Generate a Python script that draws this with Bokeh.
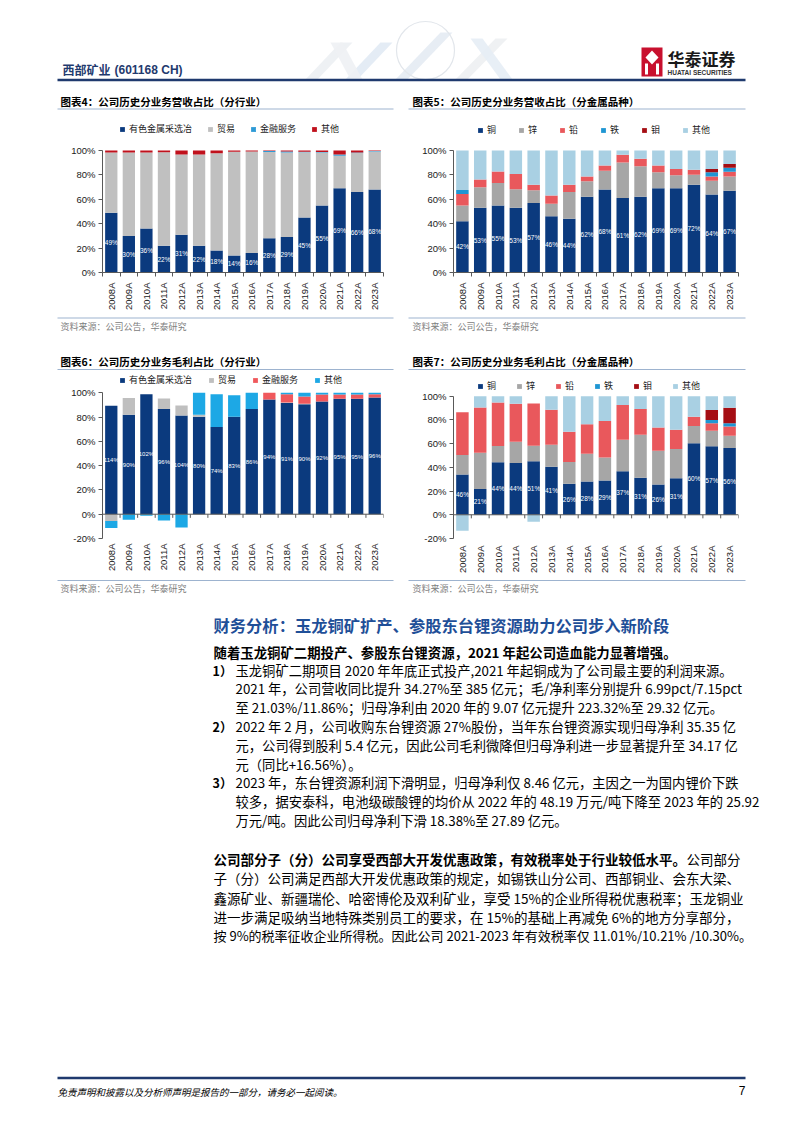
import numpy as np
from bokeh.plotting import figure
from bokeh.models import Range1d, FixedTicker, Legend, LegendItem, Span, ColumnDataSource
from bokeh.layouts import column, row
from bokeh.core.properties import value
from bokeh.embed import file_html
from bokeh.resources import INLINE

CJK = "Noto Sans CJK SC"
LAT = "Liberation Sans"

# ---------------- data ----------------
years = ["2008A", "2009A", "2010A", "2011A", "2012A", "2013A", "2014A", "2015A",
         "2016A", "2017A", "2018A", "2019A", "2020A", "2021A", "2022A", "2023A"]
y_ticks_pos = [0, 20, 40, 60, 80, 100]
y_tick_labels_pos = ["0%", "20%", "40%", "60%", "80%", "100%"]
y_ticks_neg = [-20, 0, 20, 40, 60, 80, 100]
y_tick_labels_neg = ["-20%", "0%", "20%", "40%", "60%", "80%", "100%"]

# Chart 4: revenue share by industry
ind_names = ["有色金属采选冶", "贸易", "金融服务", "其他"]
rev_ind_metal = [49, 30, 36, 22, 31, 22, 18, 14, 16, 28, 29, 45, 55, 69, 66, 68]
rev_ind_trade = [49.4, 68.4, 62.4, 76.6, 65.7, 74.7, 79.8, 84.9, 83.2, 70.8, 69.4, 53.5, 43.3, 26.7, 31.9, 31.2]
rev_ind_fin = [0, 0, 0, 0, 0, 0, 0, 0, 0, 0.8, 0.8, 0.5, 0.5, 1.0, 0.5, 0.4]
rev_ind_other = [1.6, 1.6, 1.6, 1.4, 3.3, 3.3, 2.2, 1.1, 0.8, 0.4, 0.8, 1.0, 1.2, 3.3, 1.6, 0.4]
rev_ind_labels = [49, 30, 36, 22, 31, 22, 18, 14, 16, 28, 29, 45, 55, 69, 66, 68]

# Chart 5: revenue share by metal
metal_names = ["铜", "锌", "铅", "铁", "钼", "其他"]
rev_cu = [42, 53, 55, 53, 57, 46, 44, 62, 68, 61, 62, 69, 69, 72, 64, 67]
rev_zn = [12.8, 16.9, 18.4, 15.2, 10.4, 10.4, 22.0, 12.8, 15.3, 29.1, 25.1, 13.2, 10.7, 8.0, 11.1, 11.6]
rev_pb = [9.6, 6.3, 9.3, 12.6, 4.4, 6.6, 5.8, 3.8, 4.4, 6.3, 6.1, 5.5, 5.2, 4.1, 3.5, 3.9]
rev_fe = [3.3, 0, 0, 0, 0, 0, 0, 0, 0, 0, 0, 0, 0, 0, 3.6, 3.3]
rev_mo = [0, 0, 0, 0, 0, 0, 0, 0, 0, 0, 0, 0, 0, 0, 2.7, 3.2]
rev_oth = [32.3, 23.8, 17.3, 19.2, 28.2, 37.0, 28.2, 21.4, 12.3, 3.6, 6.8, 12.3, 15.1, 15.9, 15.1, 11.0]
rev_cu_labels = [42, 53, 55, 53, 57, 46, 44, 62, 68, 61, 62, 69, 69, 72, 64, 67]

# Chart 6: gross profit share by industry (as drawn, normalised)
gp_ind_metal = [89.3, 81.8, 98.7, 86.6, 81.2, 80.2, 71.8, 80.2, 86.6, 94.4, 91.5, 90.5, 92.8, 95.0, 95.0, 96.0]
gp_ind_trade = [0, 13.9, 0, 8.6, 8.3, 1.6, 0, 0, 0, 0, 0.5, 0.5, 0, 0, 0, 0]
gp_ind_fin = [0, 0, 0, 0, 0, 0, 0, 0, 0, 5.6, 6.8, 6.0, 5.7, 3.6, 3.5, 2.7]
gp_ind_other = [0, 0, 0, 0, 0, 18.2, 26.9, 17.7, 13.4, 0, 1.2, 3.0, 1.5, 1.4, 1.5, 1.3]
gp_ind_trade_neg = [-5.6, 0, 0, 0, 0, 0, -0.5, -0.8, 0, 0, 0, 0, 0, 0, 0, 0]
gp_ind_other_neg = [-5.7, -4.6, -1.2, -5.1, -11.0, 0, 0, 0, 0, 0, 0, 0, 0, 0, 0, 0]
gp_ind_labels = [114, 90, 102, 96, 104, 80, 74, 83, 86, 94, 91, 90, 92, 95, 95, 96]

# Chart 7: gross profit share by metal (as drawn, normalised)
gp_cu = [34.0, 21.7, 44.3, 43.7, 45.1, 40.4, 26.2, 28.1, 29.0, 36.8, 31.2, 25.6, 30.9, 60.4, 57.7, 56.3]
gp_zn = [16.4, 30.7, 13.6, 17.9, 13.1, 18.7, 18.4, 23.4, 19.2, 26.4, 36.2, 28.4, 24.5, 14.5, 13.1, 10.3]
gp_pb = [36.0, 38.1, 36.8, 32.0, 35.7, 29.5, 25.3, 24.8, 30.9, 29.3, 21.7, 19.5, 16.2, 7.8, 6.4, 7.8]
gp_fe = [0, 0, 0, 0, 0, 0, 0, 0, 0, 0, 0, 0, 0, 0, 2.7, 2.8]
gp_mo = [0, 0, 0, 0, 0, 0, 0, 0, 0, 0, 0, 0, 0, 0, 8.4, 13.1]
gp_oth = [0, 9.5, 5.3, 6.4, 0, 11.4, 30.1, 23.7, 20.9, 7.5, 10.9, 26.5, 28.4, 17.3, 11.7, 9.7]
gp_oth_neg = [-13.4, 0, 0, 0, -5.8, 0, 0, 0, 0, 0, 0, 0, 0, 0, 0, 0]
gp_cu_labels = [46, 21, 44, 44, 51, 41, 26, 28, 29, 37, 31, 26, 31, 60, 57, 56]

titles = ["图表4：公司历史分业务营收占比（分行业）",
          "图表5：公司历史分业务营收占比（分金属品种）",
          "图表6：公司历史分业务毛利占比（分行业）",
          "图表7：公司历史分业务毛利占比（分金属品种）"]
source_text = "资料来源：公司公告，华泰研究"

# ---------------- styles ----------------
NAVY = "#0B3A7E"
AX = "#595959"
c4_colors = [NAVY, "#C0C0C0", "#2D9AD6", "#C0111C"]
c5_colors = [NAVY, "#A6A6A6", "#E9585C", "#1F96D3", "#A50E14", "#A9D0E3"]
c6_colors = [NAVY, "#BFBFBF", "#F0585C", "#1DA8E5"]
BAR_W = 0.7
XS = list(range(len(years)))
PAGE_W = 802
HALF_W = 401


def make_chart(w, h, mbl, mbr, mbb, yr, yticks, yticklabels, neg, standoff):
    p = figure(width=w, height=h, x_range=Range1d(-0.5, len(years) - 0.5), y_range=Range1d(*yr),
               output_backend="svg", toolbar_location=None,
               min_border_left=mbl, min_border_right=mbr, min_border_top=0, min_border_bottom=mbb)
    p.outline_line_color = None
    p.xgrid.grid_line_color = None
    p.ygrid.grid_line_color = None
    p.background_fill_color = "white"
    p.border_fill_color = "white"
    ya = p.yaxis[0]
    ya.ticker = FixedTicker(ticks=yticks, minor_ticks=[])
    ya.major_label_overrides = dict(zip(yticks, yticklabels))
    ya.bounds = (yticks[0], yticks[-1])
    ya.axis_line_color = AX
    ya.major_tick_line_color = AX
    ya.major_tick_out = 4
    ya.major_tick_in = 0
    ya.minor_tick_line_color = None
    ya.major_label_text_font = LAT
    ya.major_label_text_font_size = "9.5px"
    ya.major_label_text_color = "#1a1a1a"
    ya.major_label_standoff = 3
    xa = p.xaxis[0]
    bounds = [i - 0.5 for i in range(len(years) + 1)]
    xa.ticker = FixedTicker(ticks=XS, minor_ticks=bounds)
    xa.major_label_overrides = dict(zip(XS, years))
    xa.major_label_orientation = np.pi / 2
    xa.major_label_text_font = LAT
    xa.major_label_text_font_size = "9.5px"
    xa.major_label_text_color = "#1a1a1a"
    xa.major_label_standoff = standoff
    xa.major_tick_line_color = None
    xa.major_tick_out = 0
    xa.major_tick_in = 0
    if neg:
        xa.axis_line_color = None
        xa.minor_tick_line_color = None
        xa.minor_tick_out = 0
        xa.minor_tick_in = 0
        p.add_layout(Span(location=0, dimension="width", line_color=AX, line_width=1))
        p.segment(x0=bounds, y0=[0] * len(bounds), x1=bounds, y1=[-3] * len(bounds), line_color=AX)
    else:
        xa.axis_line_color = AX
        xa.minor_tick_line_color = AX
        xa.minor_tick_out = 4
        xa.minor_tick_in = 0
    return p


def stack(p, series, colors, tag):
    keys = [f"{tag}{i}" for i in range(len(series))]
    src = ColumnDataSource(dict(x=XS, **dict(zip(keys, series))))
    return p.vbar_stack(keys, x="x", width=BAR_W, source=src, fill_color=colors, line_color=None)


def bar_labels(p, navy, labels, size="6.5px"):
    p.text(x=XS, y=[v / 2 for v in navy], text=[f"{l}%" for l in labels],
           text_font=value(LAT), text_font_size=value(size), text_color="white",
           text_align=value("center"), text_baseline=value("middle"))


def add_legend(p, names, rends, loc, spacing):
    items = [LegendItem(label=n, renderers=[r]) for n, r in zip(names, rends)]
    lg = Legend(items=items, orientation="horizontal", location=loc,
                glyph_width=6, glyph_height=6, label_standoff=4, spacing=spacing,
                label_text_font=CJK, label_text_font_size="9px", label_text_color="#1a1a1a",
                label_height=6, label_width=0, padding=0, margin=0,
                border_line_color=None, background_fill_alpha=0)
    p.add_layout(lg)


# ---------------- chart 4 (page x 0..401, y 112..312) ----------------
c4 = make_chart(HALF_W, 200, 102, 18, 40, (0, 131.1), y_ticks_pos, y_tick_labels_pos, False, 6)
r4 = stack(c4, [rev_ind_metal, rev_ind_trade, rev_ind_fin, rev_ind_other], c4_colors, "a")
bar_labels(c4, rev_ind_metal, rev_ind_labels)
add_legend(c4, ind_names, r4, (17, 137), 15)

# ---------------- chart 5 (page x 401..802) ----------------
c5 = make_chart(HALF_W, 200, 52, 64, 40, (0, 131.1), y_ticks_pos, y_tick_labels_pos, False, 6)
r5 = stack(c5, [rev_cu, rev_zn, rev_pb, rev_fe, rev_mo, rev_oth], c5_colors, "b")
bar_labels(c5, rev_cu, rev_cu_labels)
add_legend(c5, metal_names, r5, (24, 136), 22)

# ---------------- chart 6 (page y 371..575) ----------------
c6 = make_chart(HALF_W, 204, 102, 18, 33, (-20, 117.5), y_ticks_neg, y_tick_labels_neg, True, 5)
r6 = stack(c6, [gp_ind_metal, gp_ind_trade, gp_ind_fin, gp_ind_other], c6_colors, "c")
stack(c6, [gp_ind_trade_neg, gp_ind_other_neg], [c6_colors[1], c6_colors[3]], "cn")
bar_labels(c6, gp_ind_metal, gp_ind_labels, "6px")
add_legend(c6, ind_names, r6, (17, 152), 16)

# ---------------- chart 7 ----------------
c7 = make_chart(HALF_W, 204, 52, 64, 35, (-20, 120.8), y_ticks_neg, y_tick_labels_neg, True, 7)
r7 = stack(c7, [gp_cu, gp_zn, gp_pb, gp_fe, gp_mo, gp_oth], c5_colors, "d")
stack(c7, [gp_oth_neg], [c5_colors[5]], "dn")
bar_labels(c7, gp_cu, gp_cu_labels)
add_legend(c7, metal_names, r7, (24, 146), 20)


# ---------------- page figures ----------------
def page_fig(top, h):
    p = figure(width=PAGE_W, height=h, x_range=Range1d(0, PAGE_W), y_range=Range1d(top + h, top),
               output_backend="svg", toolbar_location=None, x_axis_type=None, y_axis_type=None,
               min_border=0)
    p.outline_line_color = None
    p.background_fill_color = "white"
    p.border_fill_color = "white"
    return p


def put(p, x, y, s, size, font=CJK, style="normal", color="#000000", align="left"):
    p.text(x=[x], y=[y], text=[s], text_font=value(font), text_font_size=value(f"{size}px"),
           text_font_style=value(style), text_color=color, text_align=value(align),
           text_baseline=value("middle"))


def hline(p, x0, x1, y, color, width):
    p.segment(x0=[x0], y0=[y], x1=[x1], y1=[y], line_color=color, line_width=width)


LINE_C = "#9DB3CF"
HDR_C = "#1F3A6E"

# header + row-1 titles (page y 0..112)
f0 = page_fig(0, 112)
# faint watermark
f0.patches(xs=[[305, 340, 352, 317], [345, 380, 392, 357], [395, 440, 452, 407], [455, 495, 507, 467],
               [330, 350, 362, 342], [470, 500, 512, 482]],
           ys=[[79, 42, 42, 79], [79, 42, 42, 79], [79, 32, 32, 79], [79, 38, 38, 79],
               [42, 79, 79, 42], [38, 79, 79, 38]],
           fill_color=["#ECEFF3", "#E1EAF4", "#E4EBF3", "#EDEFF2", "#EEF1F4", "#E5EDF5"],
           line_color=None, fill_alpha=0.9)
f0.scatter(x=[425], y=[50], marker="circle", size=58, fill_color=None, line_color="#E2E6EB", line_width=1.2)
put(f0, 62, 69, "西部矿业", 12, style="bold", color=HDR_C)
put(f0, 114, 69, "(601168 CH)", 12, font=LAT, style="bold", color=HDR_C)
hline(f0, 57, 745, 79.5, HDR_C, 2.5)
# logo
f0.quad(left=[641], right=[662], top=[47], bottom=[76], fill_color="#C8102E", line_color=None)
f0.patches(xs=[[651.5, 658, 651.5, 645]], ys=[[50, 57, 64, 57]], fill_color="white", line_color=None)
f0.quad(left=[644.5, 655.5], right=[647.5, 658.5], top=[63, 63], bottom=[74, 74], fill_color="white", line_color=None)
put(f0, 667, 58, "华泰证券", 17, style="bold", color="#1a1a1a")
put(f0, 667, 72, "HUATAI SECURITIES", 6.5, font=LAT, style="bold", color="#333333")
put(f0, 60, 101, titles[0], 10.5, style="bold")
put(f0, 412, 101, titles[1], 10.5, style="bold")
hline(f0, 57, 393, 108.5, LINE_C, 1)
hline(f0, 408, 745, 108.5, LINE_C, 1)

# sources of row 1 + titles of row 2 (page y 312..371)
f1 = page_fig(312, 59)
hline(f1, 57, 393, 317.5, LINE_C, 1)
hline(f1, 408, 745, 317.5, LINE_C, 1)
put(f1, 60, 326, source_text, 9, color="#808080")
put(f1, 412, 326, source_text, 9, color="#808080")
put(f1, 60, 361, titles[2], 10.5, style="bold")
put(f1, 412, 361, titles[3], 10.5, style="bold")
hline(f1, 57, 393, 369, LINE_C, 1)
hline(f1, 408, 745, 369, LINE_C, 1)

# sources of row 2 + body text + footer (page y 575..1130)
f2 = page_fig(575, 555)
hline(f2, 57, 393, 580, LINE_C, 1)
hline(f2, 408, 745, 580, LINE_C, 1)
put(f2, 60, 587.5, source_text, 9, color="#808080")
put(f2, 412, 587.5, source_text, 9, color="#808080")

heading = "财务分析：玉龙铜矿扩产、参股东台锂资源助力公司步入新阶段"
put(f2, 213, 624, heading, 16.3, style="bold", color="#1F4F98")
put(f2, 213, 651, "随着玉龙铜矿二期投产、参股东台锂资源，2021 年起公司造血能力显著增强。", 13.4, style="bold")

body_lines = [
    (670, "玉龙铜矿二期项目 2020 年年底正式投产,2021 年起铜成为了公司最主要的利润来源。"),
    (688, "2021 年，公司营收同比提升 34.27%至 385 亿元；毛/净利率分别提升 6.99pct/7.15pct"),
    (707, "至 21.03%/11.86%；归母净利由 2020 年的 9.07 亿元提升 223.32%至 29.32 亿元。"),
    (726, "2022 年 2 月，公司收购东台锂资源 27%股份，当年东台锂资源实现归母净利 35.35 亿"),
    (745, "元，公司得到股利 5.4 亿元，因此公司毛利微降但归母净利进一步显著提升至 34.17 亿"),
    (764, "元（同比+16.56%）。"),
    (782, "2023 年，东台锂资源利润下滑明显，归母净利仅 8.46 亿元，主因之一为国内锂价下跌"),
    (801, "较多，据安泰科，电池级碳酸锂的均价从 2022 年的 48.19 万元/吨下降至 2023 年的 25.92"),
    (820, "万元/吨。因此公司归母净利下滑 18.38%至 27.89 亿元。"),
]
for yy, s in body_lines:
    put(f2, 235, yy, s, 13.3)
for yy, s in [(670, "1）"), (726, "2）"), (782, "3）")]:
    put(f2, 212, yy, s, 12.5, style="bold")

put(f2, 213, 858, "公司部分子（分）公司享受西部大开发优惠政策，有效税率处于行业较低水平。", 13.5, style="bold")
put(f2, 686, 858, "公司部分", 13.5)
para2 = [
    (877, "子（分）公司满足西部大开发优惠政策的规定，如锡铁山分公司、西部铜业、会东大梁、", 13.5),
    (897, "鑫源矿业、新疆瑞伦、哈密博伦及双利矿业，享受 15%的企业所得税优惠税率；玉龙铜业", 13.5),
    (916, "进一步满足吸纳当地特殊类别员工的要求，在 15%的基础上再减免 6%的地方分享部分，", 13.5),
    (935, "按 9%的税率征收企业所得税。因此公司 2021-2023 年有效税率仅 11.01%/10.21% /10.30%。", 13),
]
for yy, s, fs in para2:
    put(f2, 213, yy, s, fs)

hline(f2, 57, 745, 1077.5, HDR_C, 2.5)
put(f2, 57, 1091, "免责声明和披露以及分析师声明是报告的一部分，请务必一起阅读。", 9.5, style="italic")
put(f2, 745, 1090, "7", 12, font=LAT, align="right")

layout = column(f0, row(c4, c5, spacing=0), f1, row(c6, c7, spacing=0), f2, spacing=0)

with open("out.html", "w", encoding="utf-8") as fh:
    fh.write(file_html(layout, INLINE))
